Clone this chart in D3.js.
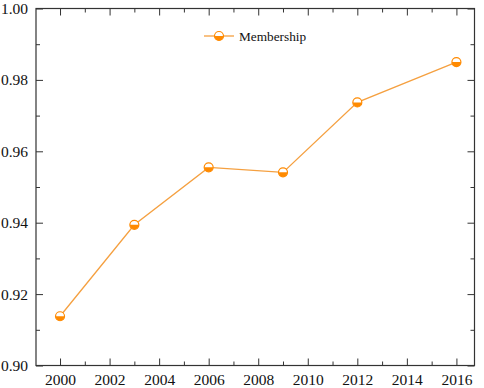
<!DOCTYPE html>
<html>
<head>
<meta charset="utf-8">
<script src="https://cdn.jsdelivr.net/npm/d3@7"></script>
<style>
  body { margin: 0; background: #fff; }
  svg { display: block; }
  svg text { font-family: "Liberation Serif", "Times New Roman", "DejaVu Serif", serif !important; }
</style>
</head>
<body>
<div id="chart"></div>
<script>
const years = [2000, 2003, 2006, 2009, 2012, 2016];
const membership = [0.9138, 0.9394, 0.9555, 0.9541, 0.9737, 0.985];
const xTicks = [2000, 2002, 2004, 2006, 2008, 2010, 2012, 2014, 2016];
const yTicks = [0.90, 0.92, 0.94, 0.96, 0.98, 1.00];
const seriesName = 'Membership';

const W = 484, H = 388;
const margin = { top: 8.5, right: 9.5, bottom: 22.5, left: 36 };
const innerW = W - margin.left - margin.right;
const innerH = H - margin.top - margin.bottom;
const FONT = 'Liberation Serif';
const LINE_COLOR = '#F5A040';
const MARK_COLOR = '#FF8A00';

const svg = d3.select('#chart').append('svg')
  .attr('width', W).attr('height', H);
const g = svg.append('g').attr('transform', `translate(${margin.left},${margin.top})`);

const x = d3.scaleLinear().domain([1999.03, 2016.73]).range([0, innerW]);
const y = d3.scaleLinear().domain([0.90, 1.00]).range([innerH, 0]);

const minorX = d3.range(2001, 2017, 2);
const minorY = d3.range(0.91, 1.0, 0.02);

function styleAxis(sel) {
  sel.attr('font-family', FONT).attr('font-size', 15.5);
  sel.select('.domain').remove();
  sel.selectAll('line').attr('stroke', '#333').attr('stroke-width', 1);
  sel.selectAll('text').attr('fill', '#111');
}

// bottom axis (ticks inward)
g.append('g').attr('transform', `translate(0,${innerH})`)
  .call(d3.axisBottom(x).tickValues(xTicks).tickFormat(d3.format('d')).tickSizeInner(-7))
  .call(styleAxis)
  .call(a => a.selectAll('text').attr('y', 19).attr('dy', 0));
g.append('g').attr('transform', `translate(0,${innerH})`)
  .call(d3.axisBottom(x).tickValues(minorX).tickFormat('').tickSizeInner(-4))
  .call(styleAxis);
// top mirror
g.append('g')
  .call(d3.axisTop(x).tickValues(xTicks).tickFormat('').tickSizeInner(-7))
  .call(styleAxis);
g.append('g')
  .call(d3.axisTop(x).tickValues(minorX).tickFormat('').tickSizeInner(-4))
  .call(styleAxis);

// left axis
g.append('g')
  .call(d3.axisLeft(y).tickValues(yTicks).tickFormat(d3.format('.2f')).tickSizeInner(-7))
  .call(styleAxis)
  .call(a => a.selectAll('text').attr('x', -8));
g.append('g')
  .call(d3.axisLeft(y).tickValues(minorY).tickFormat('').tickSizeInner(-4))
  .call(styleAxis);
// right mirror
g.append('g').attr('transform', `translate(${innerW},0)`)
  .call(d3.axisRight(y).tickValues(yTicks).tickFormat('').tickSizeInner(-7))
  .call(styleAxis);
g.append('g').attr('transform', `translate(${innerW},0)`)
  .call(d3.axisRight(y).tickValues(minorY).tickFormat('').tickSizeInner(-4))
  .call(styleAxis);

// frame
g.append('rect')
  .attr('width', innerW).attr('height', innerH)
  .attr('fill', 'none').attr('stroke', '#333').attr('stroke-width', 1.2);

// line
g.append('path')
  .datum(years)
  .attr('fill', 'none')
  .attr('stroke', LINE_COLOR)
  .attr('stroke-width', 1.3)
  .attr('d', d3.line().x(d => x(d)).y((d, i) => y(membership[i])));

// half-filled circle marker
function marker(sel, cx, cy) {
  const r = 4.5;
  const mg = sel.append('g').attr('transform', `translate(${cx},${cy})`);
  mg.append('circle').attr('r', r).attr('fill', '#fff');
  mg.append('path')
    .attr('d', d3.arc()({ innerRadius: 0, outerRadius: r, startAngle: Math.PI / 2, endAngle: Math.PI * 1.5 }))
    .attr('fill', MARK_COLOR);
  mg.append('circle').attr('r', r).attr('fill', 'none').attr('stroke', MARK_COLOR).attr('stroke-width', 1.2);
}

years.forEach((yr, i) => marker(g, x(yr), y(membership[i])));

// legend
const lg = svg.append('g').attr('transform', 'translate(204,36)');
lg.append('line').attr('x1', 0).attr('x2', 30).attr('y1', 0).attr('y2', 0)
  .attr('stroke', LINE_COLOR).attr('stroke-width', 1.3);
marker(lg, 15, 0);
lg.append('text')
  .attr('x', 35).attr('y', 4.5)
  .attr('font-family', FONT).attr('font-size', 13.3).attr('fill', '#111')
  .text(seriesName);
</script>
</body>
</html>
